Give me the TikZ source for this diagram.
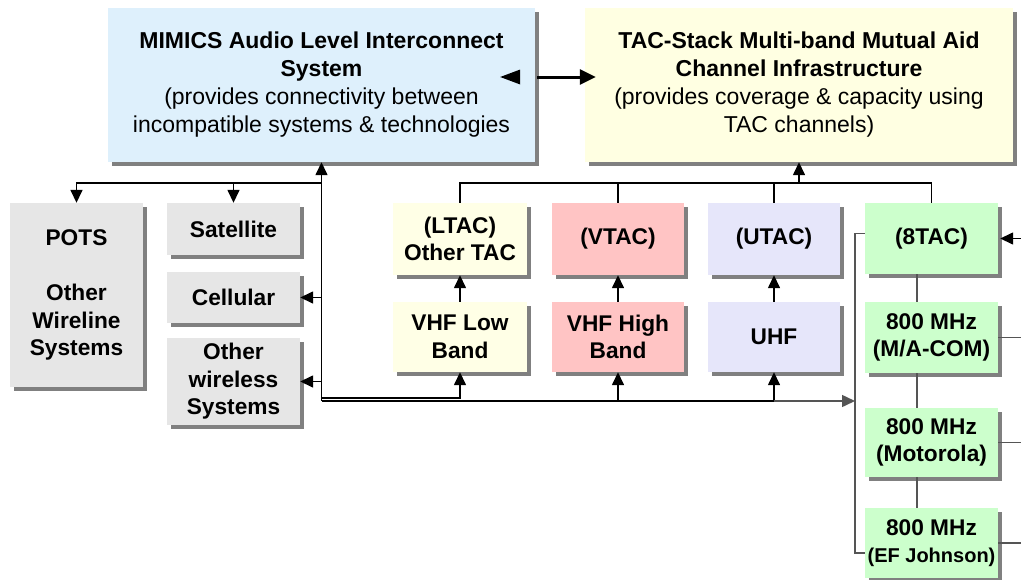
\documentclass[tikz,border=0pt]{standalone}
\usepackage{fontspec}
\setmainfont{Liberation Sans}
\usetikzlibrary{arrows.meta,shadows,calc}

\definecolor{mimicsblue}{RGB}{222,240,252}
\definecolor{tacyellow}{RGB}{255,255,226}
\definecolor{boxgray}{RGB}{230,230,230}
\definecolor{lowyellow}{RGB}{255,255,230}
\definecolor{highpink}{RGB}{255,196,196}
\definecolor{uhflav}{RGB}{230,230,250}
\definecolor{eightgreen}{RGB}{204,255,204}
\definecolor{wiregray}{RGB}{85,85,85}

\begin{document}
\begin{tikzpicture}[x=1pt,y=-1pt,
  shadowed/.style={drop shadow={shadow xshift=4pt,shadow yshift=-4pt,fill=black!50,opacity=1}},
  bigbox/.style={fill=#1,shadowed,inner sep=1pt,align=center,
    font=\fontsize{23}{28}\selectfont},
  box/.style={fill=#1,shadowed,inner sep=1pt,align=center,
    font=\fontsize{22.7}{27.5}\selectfont\bfseries},
  tip/.tip={Triangle[length=13pt,width=12pt]},
  wire/.style={line width=1.5pt,black},
  conn/.style={wire,-tip},
  gwire/.style={line width=1.5pt,wiregray},
  gconn/.style={gwire,-tip},
]
\useasboundingbox (0,0) rectangle (1021,579);

% top level systems
\node[bigbox=mimicsblue,minimum width=427pt,minimum height=154pt] (mimics) at (321.5,85)
  {\textbf{MIMICS Audio Level Interconnect}\\\textbf{System}\\(provides connectivity between\\incompatible systems \& technologies};
\node[bigbox=tacyellow,minimum width=428pt,minimum height=154pt] (tac) at (799,85)
  {\textbf{TAC-Stack Multi-band Mutual Aid}\\\textbf{Channel Infrastructure}\\(provides coverage \& capacity using\\TAC channels)};

% other networks
\node[box=boxgray,minimum width=133pt,minimum height=184pt] (pots) at (76.5,295)
  {POTS\\[27.5pt]Other\\Wireline\\Systems};
\node[box=boxgray,minimum width=133pt,minimum height=52pt] (sat) at (233.5,229) {Satellite};
\node[box=boxgray,minimum width=133pt,minimum height=51pt] (cell) at (233.5,297.5) {Cellular};
\node[box=boxgray,minimum width=133pt,minimum height=87pt] (wless) at (233.5,381.5)
  {Other\\wireless\\Systems};

% TAC channel groups
\node[box=lowyellow,minimum width=134pt,minimum height=72pt] (ltac) at (460,239) {(LTAC)\\Other TAC};
\node[box=highpink,minimum width=132pt,minimum height=72pt] (vtac) at (618,239) {(VTAC)};
\node[box=uhflav,minimum width=132pt,minimum height=72pt] (utac) at (774,239) {(UTAC)};
\node[box=eightgreen,minimum width=133pt,minimum height=71pt] (t8) at (931.5,238.5) {(8TAC)};

% radio bands
\node[box=lowyellow,minimum width=134pt,minimum height=70pt] (vlow) at (460,337) {VHF Low\\Band};
\node[box=highpink,minimum width=132pt,minimum height=70pt] (vhigh) at (618,337) {VHF High\\Band};
\node[box=uhflav,minimum width=132pt,minimum height=70pt] (uhf) at (774,337) {UHF};
\node[box=eightgreen,minimum width=133pt,minimum height=71pt] (ma) at (931.5,337.5) {800 MHz\\(M/A-COM)};
\node[box=eightgreen,minimum width=133pt,minimum height=69pt] (moto) at (931.5,442.5) {800 MHz\\(Motorola)};
\node[box=eightgreen,minimum width=133pt,minimum height=70pt] (efj) at (931.5,543)
  {800 MHz\\{\fontsize{20}{24}\selectfont(EF Johnson)}};

% helper points
\coordinate (hubtop) at (321.5,183);
\coordinate (hubbot) at (321.5,401);
\coordinate (hublow) at (321.5,398);
\coordinate (tacbus) at (798,183);
\coordinate (bus8) at (855,401);
\coordinate (edge) at (1021,0);
\coordinate (link) at ($(mimics.east)+(0,-8)$);

% MIMICS <-> TAC-Stack
\fill ($(link)+(-15,-7.5)$) -- ($(link)+(-35,0)$) -- ($(link)+(-15,7.5)$) -- cycle;
\draw[line width=3pt,-{Triangle[length=16pt,width=15pt]}] ($(link)+(2,0)$) -- ($(tac.west |- link)+(11,0)$);

% MIMICS interconnect bus
\draw[conn] (hubbot) -- (mimics.south);
\draw[conn] (hubtop) -| (pots.north);
\draw[conn] (hubtop -| sat.north) -- (sat.north);
\draw[conn] (mimics.south |- cell.east) -- (cell.east);
\draw[conn] (mimics.south |- wless.east) -- (wless.east);
\draw[conn] (hublow) -| (vlow.south);
\draw[conn] (hubbot) -| (vhigh.south);
\draw[conn] (hubbot -| uhf.south) -- (uhf.south);
\draw[wire] (hubbot) -- (hubbot -| uhf.south);
\draw[gconn] (hubbot -| uhf.south) -- (bus8);

% TAC-Stack bus
\draw[conn] (tacbus) -- (tac.south |- tacbus) -- (tac.south);
\draw[wire] (ltac.north) -- (ltac.north |- tacbus) -| (t8.north);
\draw[wire] (vtac.north) -- (vtac.north |- tacbus);
\draw[wire] (utac.north) -- (utac.north |- tacbus);

% band to channel links
\draw[conn] (vlow.north) -- (ltac.south);
\draw[conn] (vhigh.north) -- (vtac.south);
\draw[conn] (uhf.north) -- (utac.south);

% 800 MHz systems
\draw[gwire] ([yshift=5pt]t8.west) -| (bus8) |- ([yshift=-10pt]efj.west);
\draw[gwire] ([xshift=-14.5pt]t8.south) -- ([xshift=-14.5pt]ma.north);
\draw[gwire] ([xshift=-14.5pt]ma.south) -- ([xshift=-14.5pt]moto.north);
\draw[gwire] ([xshift=-14.5pt]moto.south) -- ([xshift=-14.5pt]efj.north);
\draw[conn] (t8.east -| edge) -- ([xshift=2pt]t8.east);
\draw[gwire] (ma.east) -- (ma.east -| edge);
\draw[gwire] (moto.east) -- (moto.east -| edge);
\draw[gwire] (efj.east) -- (efj.east -| edge);
\end{tikzpicture}
\end{document}
